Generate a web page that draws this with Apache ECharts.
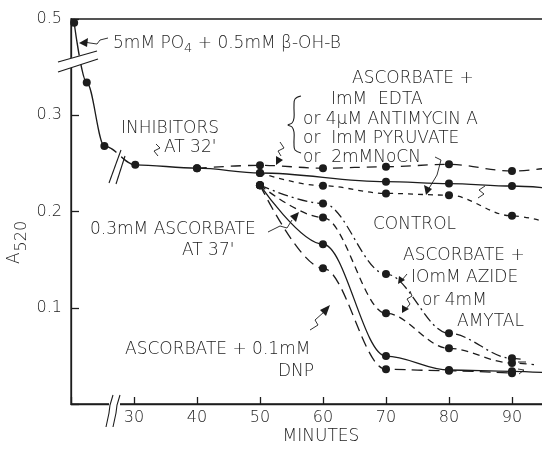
<!DOCTYPE html>
<html>
<head>
<meta charset="utf-8">
<script src="https://cdn.jsdelivr.net/npm/echarts@6/dist/echarts.min.js"></script>
<style>
html,body{margin:0;padding:0;background:#fff;}
#chart{width:542px;height:450px;}
</style>
</head>
<body>
<div id="chart"></div>
<script>
// ---- data (time in minutes, absorbance A520) ----
const xTicks = [30, 40, 50, 60, 70, 80, 90];
const yTickLabels = { '0.1': '0.1', '0.2': '0.2', '0.3': '0.3', '0.4': '0.5' };

// common curve + control (solid)
const ctrlT = [20.5, 22.5, 25.3, 30.2, 40, 50, 70, 80, 90];
const ctrlA = [0.496, 0.334, 0.268, 0.2485, 0.245, 0.240, 0.231, 0.229, 0.2265];
const ctrlEnd = [95.5, 0.2245];

// ascorbate + EDTA / antimycin A / pyruvate (long dash)
const edtaT = [40, 50, 60, 70, 80, 90];
const edtaA = [0.245, 0.248, 0.245, 0.2465, 0.249, 0.242];
const edtaEnd = [95.5, 0.245];

// ascorbate + NaCN (short dash)
const cnT = [50, 60, 70, 80, 90];
const cnA = [0.240, 0.2267, 0.2188, 0.217, 0.1955];
const cnEnd = [95.5, 0.189];

// ascorbate + DNP (long dash)
const dnpT = [50, 60, 70, 80, 90];
const dnpA = [0.2274, 0.141, 0.036, 0.0345, 0.032];

// 0.3 mM ascorbate at 37' (solid)
const ascT = [50, 60, 70, 80, 90];
const ascA = [0.2274, 0.166, 0.0498, 0.0353, 0.034];
const ascEnd = [95.5, 0.0325];

// ascorbate + amytal (dash)
const amyT = [50, 60, 70, 80, 90];
const amyA = [0.2274, 0.1937, 0.0942, 0.0578, 0.0426];
const amyEnd = [93.5, 0.041];

// ascorbate + azide (dash-dot)
const azT = [50, 60, 70, 80, 90];
const azA = [0.2274, 0.2084, 0.135, 0.0734, 0.0475];
const azEnd = [92, 0.046];

// ---- axis break on the A520 scale: 0.5 is drawn where 0.4 would be ----
function brk(v) { return v > 0.36 ? v - 0.1 : v; }

function pts(t, a, end) {
  const d = t.map((x, i) => [x, brk(a[i])]);
  if (end) d.push({ value: [end[0], brk(end[1])], symbol: 'none' });
  return d;
}

const INK = '#1c1c1c';
const FONT = '"DejaVu Sans Light", "DejaVu Sans"';

function lineSeries(name, data, type) {
  return {
    name: name, type: 'line', data: data,
    smooth: 0.35, smoothMonotone: 'x',
    symbol: 'circle', symbolSize: 8,
    itemStyle: { color: INK },
    lineStyle: { color: INK, width: 1.3, type: type },
    clip: true, z: 3
  };
}

const chart = echarts.init(document.getElementById('chart'), null, { renderer: 'canvas' });

function txt(x, y, s, size, rich) {
  const o = {
    type: 'text', x: x, y: y, z: 10,
    style: {
      text: s, fill: INK, fontFamily: FONT, fontSize: size || 16, fontWeight: 200,
      align: 'left', verticalAlign: 'middle'
    }
  };
  if (rich) o.style.rich = rich;
  return o;
}
function pl(points, w, smooth) {
  return { type: 'polyline', z: 10, shape: { points: points, smooth: smooth || 0 },
    style: { stroke: INK, lineWidth: w || 1, fill: null } };
}
function tri(points) {
  return { type: 'polygon', z: 10, shape: { points: points }, style: { fill: INK } };
}
function mask(points) {
  return { type: 'polygon', z: 9, shape: { points: points }, style: { fill: '#fff' } };
}

const graphics = [
  // break marks: y axis
  mask([[58, 62], [97, 50], [98, 59], [58, 72]]),
  pl([[58, 62], [97, 51]], 1.2),
  pl([[58, 72], [98, 59]], 1.2),
  // break marks: curve and x axis
  mask([[112, 160], [119, 148], [124, 152], [117, 164]]),
  pl([[109, 183], [121, 150]], 1.1),
  pl([[116, 184], [125, 156]], 1.1),
  mask([[109, 400], [114, 400], [120, 400], [120, 410], [109, 410]]),
  pl([[106, 427], [109, 413], [110, 405], [113, 395]], 1.1),
  pl([[113, 427], [116, 413], [117, 405], [120, 395]], 1.1),

  // texts
  txt(113, 44, '5mM PO{s|4} + 0.5mM β-OH-B', 17,
      { s: { fontSize: 13, fontFamily: FONT, fontWeight: 200, fill: INK, padding: [10, 0, 0, 0] } }),
  txt(352, 79, 'ASCORBATE +', 17),
  txt(331, 100, 'ImM  EDTA', 17),
  txt(303, 120, 'or 4μM ANTIMYCIN A', 17),
  txt(303, 139, 'or  ImM PYRUVATE', 17),
  txt(303, 158, 'or  2mMNoCN', 17),
  // brace
  pl([[301, 96], [295, 99], [294, 106], [294, 118], [292, 123], [288, 125],
      [292, 127], [294, 132], [294, 144], [295, 150], [301, 153]], 1.1, 0.4),
  txt(121, 129, 'INHIBITORS', 17),
  txt(164, 148, 'AT 32\'', 17),
  txt(90, 230, '0.3mM ASCORBATE', 17),
  txt(182, 251, 'AT 37\'', 17),
  txt(373, 225, 'CONTROL', 17),
  txt(403, 256, 'ASCORBATE +', 17),
  txt(411, 278, 'IOmM AZIDE', 17),
  txt(422, 301, 'or 4mM', 17),
  txt(457, 322, 'AMYTAL', 17),
  txt(125, 350, 'ASCORBATE + 0.1mM', 17),
  txt(278, 372, 'DNP', 17),

  // leaders and arrows
  pl([[108, 38], [100, 40], [97, 44], [90, 43], [84, 42]], 0.9),
  tri([[79, 43], [88, 38], [87, 47]]),
  pl([[156, 144], [160, 148], [154, 151], [158, 156]], 0.9),
  pl([[280, 142], [284, 148], [278, 151], [281, 156]], 0.9),
  tri([[276, 165], [276, 156], [283, 160]]),
  pl([[435, 157], [441, 160], [437, 175], [428, 190]], 0.9),
  tri([[426, 195], [424, 185], [432, 189]]),
  pl([[478, 198], [484, 194], [479, 190], [485, 186]], 0.9),
  pl([[268, 232], [280, 226], [287, 228], [292, 220]], 0.9),
  tri([[299, 212], [290, 216], [296, 222]]),
  pl([[310, 330], [318, 325], [315, 320], [324, 312]], 0.9),
  tri([[330, 305], [320, 310], [326, 316]]),
  pl([[407, 274], [402, 280]], 0.9),
  tri([[398, 284], [399, 276], [405, 280]]),
  pl([[410, 291], [412, 296], [407, 299], [410, 304], [405, 310]], 0.9),
  tri([[402, 313], [402, 305], [409, 309]]),
  pl([[518, 362], [526, 362]], 1),
  pl([[518, 369], [524, 370], [519, 374]], 0.9)
];

const option = {
  backgroundColor: '#fff',
  animation: false,
  grid: { left: 71, right: -5, top: 19, bottom: 46, show: true, containLabel: false,
          outerBoundsMode: 'none',
          borderColor: INK, borderWidth: 1.3, backgroundColor: 'transparent' },
  xAxis: {
    type: 'value', min: 20, max: 95.56, interval: 10,
    name: 'MINUTES', nameLocation: 'middle', nameGap: 24, nameMoveOverlap: false,
    nameTextStyle: { color: INK, fontFamily: FONT, fontSize: 17, fontWeight: 200,
                     padding: [0, 0, 0, 24] },
    axisLine: { show: true, lineStyle: { color: INK, width: 1.3 } },
    axisTick: { show: true, inside: true, length: 7, lineStyle: { color: INK, width: 1.3 } },
    axisLabel: {
      color: INK, fontFamily: FONT, fontSize: 16, fontWeight: 200, margin: 6,
      formatter: function (v) { return xTicks.indexOf(v) >= 0 ? String(v) : ''; }
    },
    splitLine: { show: false }
  },
  yAxis: {
    type: 'value', min: 0, max: 0.4, interval: 0.1,
    name: '{a|A}{s|520}', nameLocation: 'middle', nameRotate: 90, nameGap: 40,
    nameMoveOverlap: false,
    nameTextStyle: {
      padding: [0, 62, 0, 0],
      rich: {
        a: { fontFamily: FONT, fontSize: 17, fontWeight: 200, color: INK, padding: [0, 1, 8, 0] },
        s: { fontFamily: FONT, fontSize: 16, fontWeight: 200, color: INK, padding: [6, 0, 0, 0] }
      }
    },
    axisLine: { show: true, lineStyle: { color: INK, width: 1.3 } },
    axisTick: { show: true, inside: true, length: 8, lineStyle: { color: INK, width: 1.3 } },
    axisLabel: {
      color: INK, fontFamily: FONT, fontSize: 16, fontWeight: 200, margin: 9,
      formatter: function (v) { const k = v.toFixed(1); return yTickLabels[k] || ''; }
    },
    splitLine: { show: false }
  },
  series: [
    lineSeries('Control', pts(ctrlT, ctrlA, ctrlEnd), 'solid'),
    lineSeries('Ascorbate + EDTA / antimycin A / pyruvate', pts(edtaT, edtaA, edtaEnd), [10, 7]),
    lineSeries('Ascorbate + NaCN', pts(cnT, cnA, cnEnd), [5, 5]),
    lineSeries('Ascorbate + 0.1mM DNP', pts(dnpT, dnpA), [11, 6]),
    lineSeries('0.3mM ascorbate at 37\'', pts(ascT, ascA, ascEnd), 'solid'),
    lineSeries('Ascorbate + 4mM amytal', pts(amyT, amyA, amyEnd), [7, 5]),
    lineSeries('Ascorbate + 10mM azide', pts(azT, azA, azEnd), [10, 4, 2, 4])
  ],
  graphic: graphics
};
chart.setOption(option);
</script>
</body>
</html>
